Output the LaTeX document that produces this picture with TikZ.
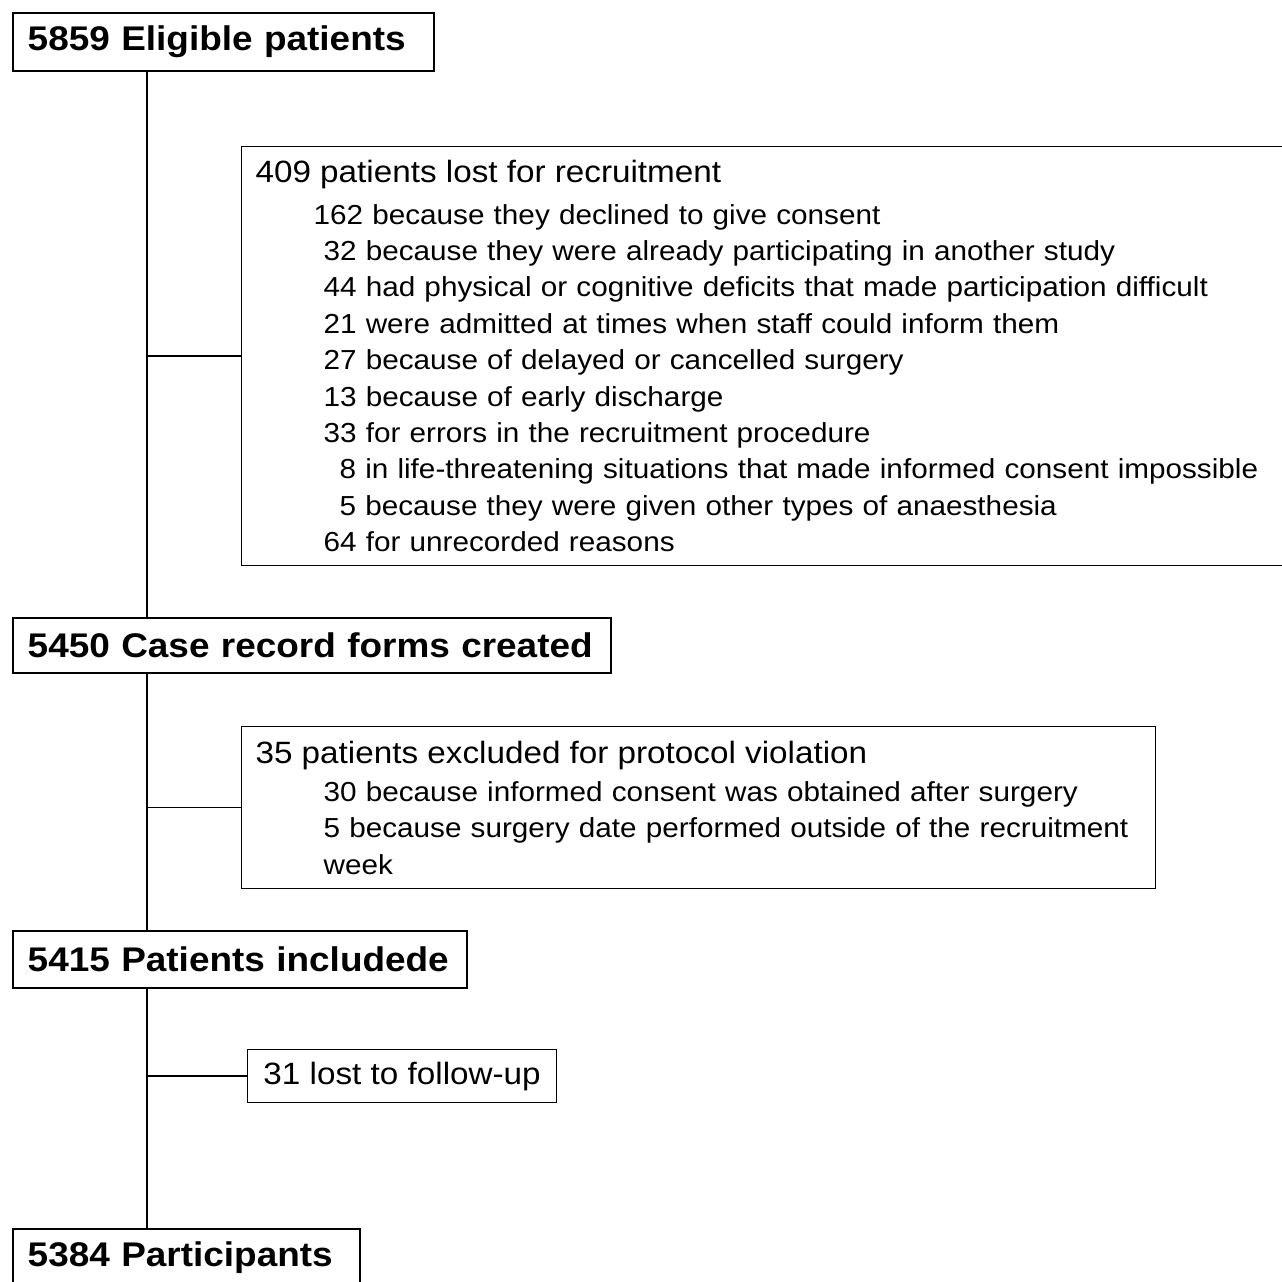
\documentclass[tikz,border=0pt]{standalone}
\usepackage{fontspec}
\setmainfont{Liberation Sans}[FakeStretch=1.08]
\usetikzlibrary{positioning}

\newcommand{\subsize}{\fontsize{13.75}{18.2}\selectfont}
\newcommand{\headsize}{\fontsize{15.4}{18.2}\selectfont}

\begin{document}
\begin{tikzpicture}[x=0.5pt, y=-0.5pt,
    stage/.style={rectangle, draw, line width=0.75pt, anchor=north west, align=left, inner xsep=7.5pt, inner ysep=0pt, minimum height=29pt, font=\bfseries\fontsize{17.1}{20}\selectfont},
    loss/.style={rectangle, draw, line width=0.6pt, anchor=north west, align=left, inner xsep=7pt, inner ysep=0pt, font=\subsize}]
    \useasboundingbox (0,0) rectangle (1282,1282);
    \coordinate (trunk) at (147,0);

    % Stages of the flow
    \node [stage, text width=195.5pt] (elig) at (12,12) {5859 Eligible patients};
    \node [stage, text width=284pt, minimum height=27.5pt] (crf) at (12,617) {5450 Case record forms created};
    \node [stage, text width=212pt, minimum height=28.5pt] (incl) at (12,930) {5415 Patients includede};
    \node [stage, text width=158.5pt] (part) at (12,1228) {5384 Participants};

    % Patients dropped between stages
    \node [loss, text width=515.5pt, minimum height=209.5pt] (lost) at (241,146) {
        {\headsize 409 patients lost for recruitment}\\[2.5pt]
        \hspace*{29pt}162 because they declined to give consent\\
        \hspace*{34pt}32 because they were already participating in another study\\
        \hspace*{34pt}44 had physical or cognitive deficits that made participation difficult\\
        \hspace*{34pt}21 were admitted at times when staff could inform them\\
        \hspace*{34pt}27 because of delayed or cancelled surgery\\
        \hspace*{34pt}13 because of early discharge\\
        \hspace*{34pt}33 for errors in the recruitment procedure\\
        \hspace*{42pt}8 in life-threatening situations that made informed consent impossible\\
        \hspace*{42pt}5 because they were given other types of anaesthesia\\
        \hspace*{34pt}64 for unrecorded reasons
    };
    \node [loss, text width=443pt, minimum height=81pt] (excl) at (241,726) {
        {\headsize 35 patients excluded for protocol violation}\\[1pt]
        \hspace*{34pt}30 because informed consent was obtained after surgery\\
        \hspace*{34pt}5 because surgery date performed outside of the recruitment\\
        \hspace*{34pt}week
    };
    \node [loss, minimum width=154.5pt, minimum height=26.5pt, font=\headsize] (fu) at (247,1049) {31 lost to follow-up};

    % Trunk and branches
    \draw [line width=0.7pt] (elig.south -| trunk) -- (crf.north -| trunk);
    \draw [line width=0.7pt] (crf.south -| trunk) -- (incl.north -| trunk);
    \draw [line width=0.7pt] (incl.south -| trunk) -- (part.north -| trunk);
    \draw [line width=0.7pt] (lost.west -| trunk) -- (lost.west);
    \draw [line width=0.7pt] (excl.west -| trunk) -- (excl.west);
    \draw [line width=0.7pt] (fu.west -| trunk) -- (fu.west);
\end{tikzpicture}
\end{document}
